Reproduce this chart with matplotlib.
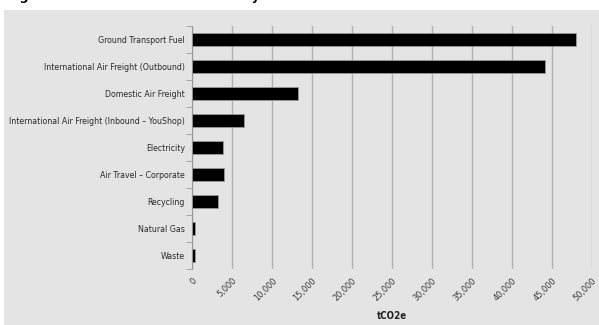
import matplotlib.pyplot as plt
from matplotlib.patches import Rectangle
from matplotlib.ticker import FuncFormatter, MultipleLocator

# emissions by source, tCO2e
sources = ["Ground Transport Fuel", "International Air Freight (Outbound)",
           "Domestic Air Freight", "International Air Freight (Inbound \u2013 YouShop)",
           "Electricity", "Air Travel \u2013 Corporate", "Recycling",
           "Natural Gas", "Waste"]
emissions = [48050, 44100, 13300, 6550, 3900, 3950, 3300, 400, 400]

plt.rcParams['font.family'] = ['DejaVu Sans']
plt.rcParams['font.stretch'] = 'condensed'

fig = plt.figure(figsize=(5.99, 3.25), dpi=100)
fig.patch.set_facecolor('white')
fig.patches.append(Rectangle((4 / 599, 0), 1, 1 - 10 / 325, transform=fig.transFigure,
                             facecolor='#e4e4e4', edgecolor='none', zorder=-10))
fig.text(0.012, 1.01, "Figure 4: 2018-19 CO2 emissions by source", fontsize=9,
         fontweight='bold', fontstretch='normal', ha='left', va='center', color='black')

ax = fig.add_axes([192 / 599, 1 - 269 / 325, 400 / 599, 243 / 325])
ax.set_facecolor('none')
ax.set_zorder(5)

ypos = list(range(len(sources)))
ax.barh(ypos, emissions, height=0.48, color='black', edgecolor='#9a9a9a', linewidth=0.6, zorder=3)
ax.set_ylim(len(sources) - 0.5, -0.5)
ax.set_yticks(ypos)
ax.set_yticklabels(sources, fontsize=6.3, color='#2a2a2a')
ax.set_yticks([i - 0.5 for i in range(len(sources) + 1)], minor=True)
ax.tick_params(axis='y', which='major', length=0, pad=5)
ax.tick_params(axis='y', which='minor', length=4, color='#999999')

ax.set_xlim(0, 50000)
ax.xaxis.set_major_locator(MultipleLocator(5000))
ax.xaxis.set_major_formatter(FuncFormatter(lambda v, p: f"{int(v):,}"))
ax.tick_params(axis='x', length=0, labelsize=6.6, labelcolor='#3a3a3a', pad=5)
plt.setp(ax.get_xticklabels(), rotation=45, ha='right', va='top', rotation_mode='anchor')
ax.grid(axis='x', color='#b0b0b0', linewidth=1.0, zorder=1)
ax.set_xlabel("tCO2e", fontsize=7, fontweight='bold', color='#222222', labelpad=6)

for s in ['top', 'right', 'bottom']:
    ax.spines[s].set_visible(False)
ax.spines['left'].set_color('#999999')

fig.savefig("out.png", dpi=100)
